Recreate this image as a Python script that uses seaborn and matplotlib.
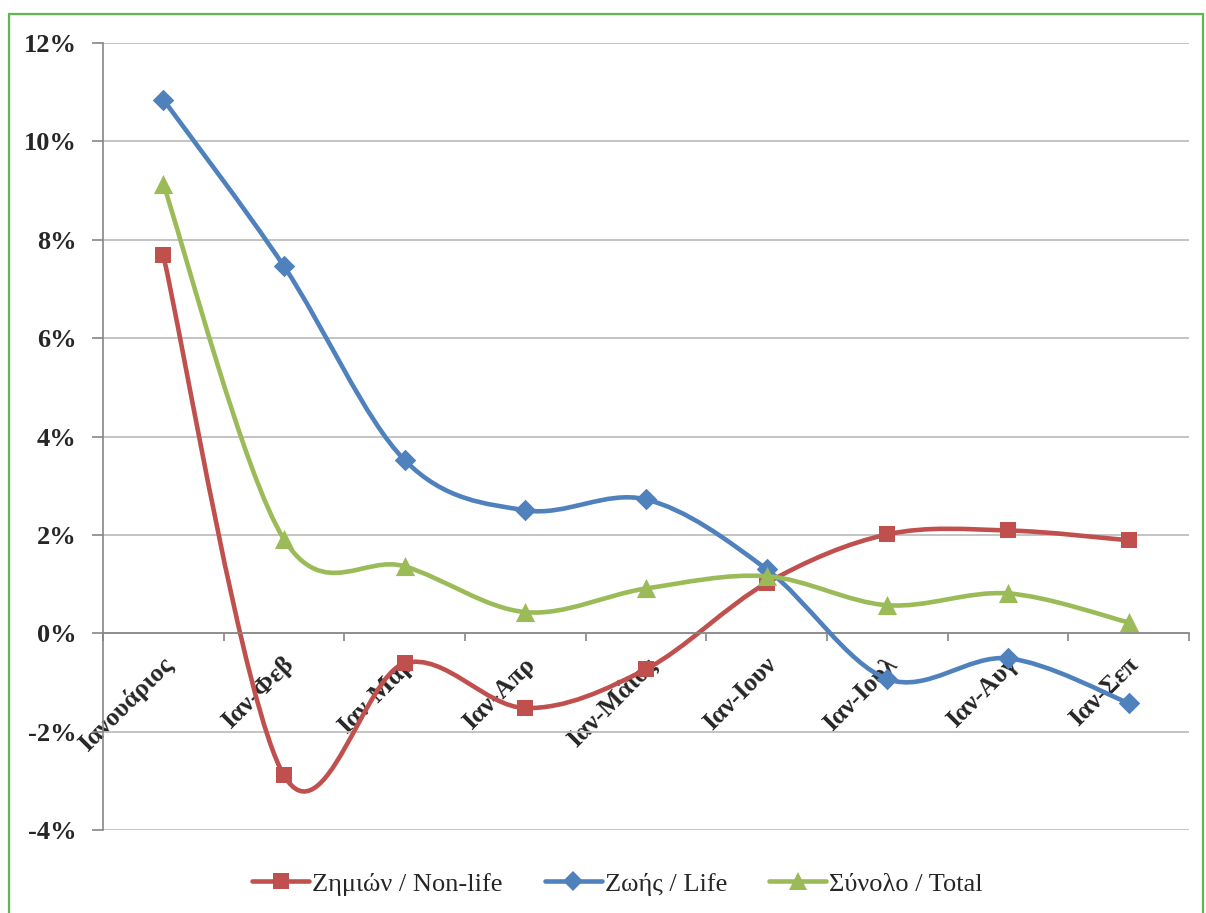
import numpy as np
import pandas as pd
import seaborn as sns
import matplotlib.pyplot as plt
from matplotlib.path import Path
from matplotlib.patches import PathPatch
from matplotlib.lines import Line2D
from matplotlib.ticker import MultipleLocator, FuncFormatter

# values (percent)
months = ['Ιανουάριος', 'Ιαν-Φεβ', 'Ιαν-Μαρ', 'Ιαν-Απρ', 'Ιαν-Μάιος',
          'Ιαν-Ιουν', 'Ιαν-Ιουλ', 'Ιαν-Αυγ', 'Ιαν-Σεπ']
non_life = [7.68, -2.89, -0.61, -1.52, -0.73, 1.02, 2.01, 2.09, 1.89]
life = [10.85, 7.46, 3.52, 2.50, 2.72, 1.30, -0.93, -0.51, -1.42]
total = [9.13, 1.91, 1.36, 0.43, 0.91, 1.16, 0.57, 0.81, 0.22]

series_names = ['Ζημιών / Non-life', 'Ζωής / Life', 'Σύνολο / Total']
colors = ['#C0504D', '#4F81BD', '#9BBB59']
marker_kinds = ['s', 'D', '^']
marker_sizes = [140, 120, 190]

sns.set_theme(style='white')
plt.rcParams['font.family'] = ['Liberation Serif', 'DejaVu Serif']


def smooth_path(xs, ys):
    """Catmull-Rom style bezier path through the points (like Excel smoothing)."""
    pts = np.column_stack([xs, ys]).astype(float)
    n = len(pts)
    verts = [pts[0]]
    codes = [Path.MOVETO]
    for i in range(n - 1):
        p0 = pts[i - 1] if i > 0 else pts[i]
        p1 = pts[i]
        p2 = pts[i + 1]
        p3 = pts[i + 2] if i + 2 < n else pts[i + 1]
        c1 = p1 + (p2 - p0) / 6.0
        c2 = p2 - (p3 - p1) / 6.0
        verts += [c1, c2, p2]
        codes += [Path.CURVE4] * 3
    return Path(verts, codes)


df = pd.DataFrame({
    'pos': list(range(len(months))) * 3,
    'value': non_life + life + total,
    'series': np.repeat(series_names, len(months)),
})

fig = plt.figure(figsize=(12.06, 9.13), dpi=100)
ax = fig.add_axes([0.0854, 0.0909, 0.9005, 0.862])

pos = np.arange(len(months))
for k, (name, vals) in enumerate(zip(series_names, [non_life, life, total])):
    patch = PathPatch(smooth_path(pos, vals), facecolor='none',
                      edgecolor=colors[k], lw=3.3, zorder=2 + 2 * k,
                      capstyle='round', joinstyle='round')
    ax.add_patch(patch)
    sns.scatterplot(data=df[df['series'] == name], x='pos', y='value',
                    marker=marker_kinds[k], s=marker_sizes[k], color=colors[k],
                    edgecolor=colors[k], linewidth=0, zorder=3 + 2 * k,
                    legend=False, ax=ax)

ax.set_xlim(-0.5, len(months) - 0.5)
ax.set_ylim(-4, 12)
ax.set_xlabel('')
ax.set_ylabel('')

# y axis
ax.yaxis.set_major_locator(MultipleLocator(2))
ax.yaxis.set_major_formatter(FuncFormatter(lambda v, p: f'{v:.0f}%'))
ax.grid(axis='y', color='#BEBEBE', lw=1.3)
ax.grid(axis='x', visible=False)
ax.tick_params(axis='y', which='major', direction='out', length=8, width=1.2,
               color='#868686', pad=11, left=True, labelsize=19)
for lab in ax.get_yticklabels():
    lab.set_fontweight('bold')

# x axis sits on the zero line
ax.spines['bottom'].set_position(('data', 0))
ax.spines['bottom'].set_color('#868686')
ax.spines['bottom'].set_linewidth(1.2)
ax.spines['left'].set_color('#868686')
ax.spines['left'].set_linewidth(1.2)
ax.spines['top'].set_visible(False)
ax.spines['right'].set_visible(False)
ax.set_xticks(pos + 0.05)
ax.set_xticklabels(months, rotation=45, ha='right', va='center',
                   rotation_mode='anchor', fontweight='bold', fontsize=18.5)
ax.set_xticks(np.arange(-0.5, len(months)), minor=True)
ax.tick_params(axis='x', which='major', length=0, pad=20, bottom=True)
ax.tick_params(axis='x', which='minor', direction='out', length=6, width=1.2,
               color='#868686', bottom=True)

# legend at the bottom
handles = [Line2D([], [], color=c, lw=3.3, marker=m, markersize=ms, markeredgewidth=0)
           for c, m, ms in zip(colors, marker_kinds, [12, 10, 13])]
fig.legend(handles, series_names, loc='center', bbox_to_anchor=(0.512, 0.032),
           ncol=3, frameon=False, fontsize=19, handlelength=2.15,
           columnspacing=1.6, handletextpad=0.12)

# green frame around the chart area
frame_kw = dict(color='#5DB94A', lw=1.6, transform=fig.transFigure)
top_y = 1 - 14 / 913
left_x = 9 / 1206
right_x = 1203 / 1206
fig.add_artist(Line2D([left_x, right_x], [top_y, top_y], **frame_kw))
fig.add_artist(Line2D([left_x, left_x], [0, top_y], **frame_kw))
fig.add_artist(Line2D([right_x, right_x], [0, top_y], **frame_kw))

fig.savefig('out.png', dpi=100)
